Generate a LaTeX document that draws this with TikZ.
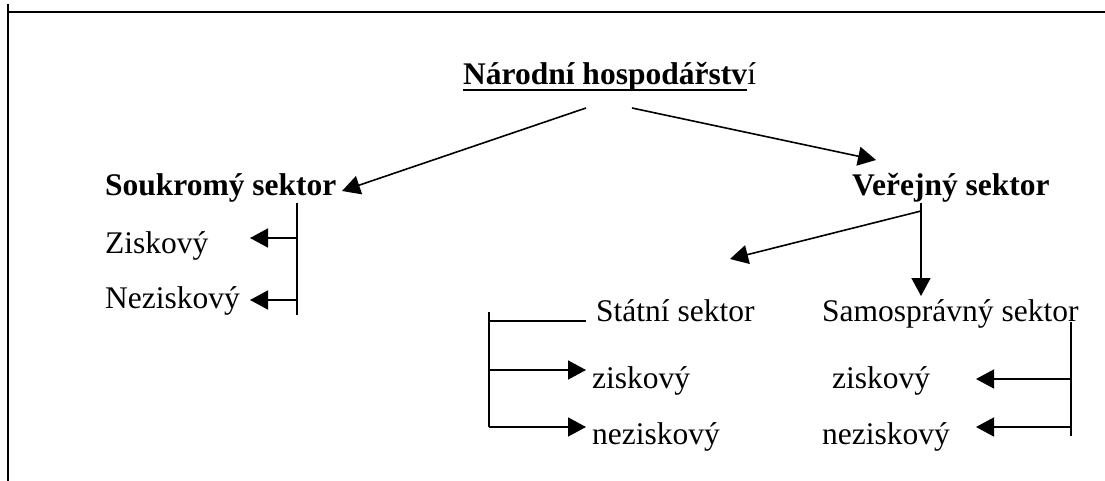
\documentclass[tikz,border=0pt]{standalone}
\usepackage{fontspec}
\setmainfont{Liberation Serif}
\usetikzlibrary{arrows.meta}
\begin{document}
\begin{tikzpicture}[x=1pt,y=-1pt,
  lbl/.style={anchor=base west,inner sep=0pt,font=\fontsize{31.5}{36}\selectfont},
  bl/.style={anchor=base west,inner sep=0pt,font=\fontsize{31.5}{36}\selectfont\bfseries},
  ln/.style={line width=1.6pt},
  arr/.style={ln,-{Triangle[length=18pt,width=19pt]}},
  frame/.style={line width=2pt}]
\useasboundingbox (0,0) rectangle (1105,481);
% frame
\coordinate (f1) at (8,4);
\coordinate (f2) at (8,481);
\coordinate (f3) at (8,12);
\coordinate (f4) at (1105,12);
\draw[frame] (f1) -- (f2);
\draw[frame] (f3) -- (f4);
% title
\node[bl] (t1) at (463,85) {Národní hospodářstv};
\node[lbl] (t2) at (t1.base east) {í};
\draw[line width=2.5pt] ([yshift=-5pt]t1.base west) -- ([yshift=-5pt]t1.base east);
% sectors
\node[bl] (sk) at (105,196) {Soukromý sektor};
\node[bl] (vs) at (852,196) {Veřejný sektor};
\node[lbl] (z1) at (105,253) {Ziskový};
\node[lbl] (n1) at (105,308) {Neziskový};
\node[lbl] (st) at (596,321) {Státní sektor};
\node[lbl] (sa) at (822,321) {Samosprávný sektor};
\node[lbl] (z2) at (592,388) {ziskový};
\node[lbl] (n2) at (592,444) {neziskový};
\node[lbl] (z3) at (832,388) {ziskový};
\node[lbl] (n3) at (822,444) {neziskový};
% arrows from title
\coordinate (a1s) at (586,108);
\coordinate (a1e) at (342,191);
\coordinate (a2s) at (632,108);
\coordinate (a2e) at (876,160);
\draw[arr] (a1s) -- (a1e);
\draw[arr] (a2s) -- (a2e);
% from Verejny
\coordinate (v0) at (921,203);
\coordinate (v1) at (921,211);
\coordinate (vd) at (921,296);
\coordinate (vs2) at (730,259);
\draw[arr] (v0) -- (vd);
\draw[arr] (v1) -- (vs2);
% left bracket
\coordinate (l0) at (297,203);
\coordinate (l1) at (297,315);
\coordinate (l2) at (297,238);
\coordinate (l3) at (297,300);
\coordinate (l2e) at (250,238);
\coordinate (l3e) at (250,300);
\draw[ln] (l0) -- (l1);
\draw[arr] (l2) -- (l2e);
\draw[arr] (l3) -- (l3e);
% middle bracket
\coordinate (m0) at (489,312);
\coordinate (m1) at (489,427);
\coordinate (m2) at (489,321);
\coordinate (m2e) at (586,321);
\coordinate (m3) at (489,370);
\coordinate (m3e) at (586,370);
\coordinate (m4e) at (586,427);
\draw[ln] (m0) -- (m1);
\draw[ln] (m2) -- (m2e);
\draw[arr] (m3) -- (m3e);
\draw[arr] (m1) -- (m4e);
% right bracket
\coordinate (r0) at (1071,322);
\coordinate (r1) at (1071,436);
\coordinate (r2) at (1071,379);
\coordinate (r2e) at (976,379);
\coordinate (r3) at (1071,427);
\coordinate (r3e) at (976,427);
\draw[ln] (r0) -- (r1);
\draw[arr] (r2) -- (r2e);
\draw[arr] (r3) -- (r3e);
\end{tikzpicture}
\end{document}
